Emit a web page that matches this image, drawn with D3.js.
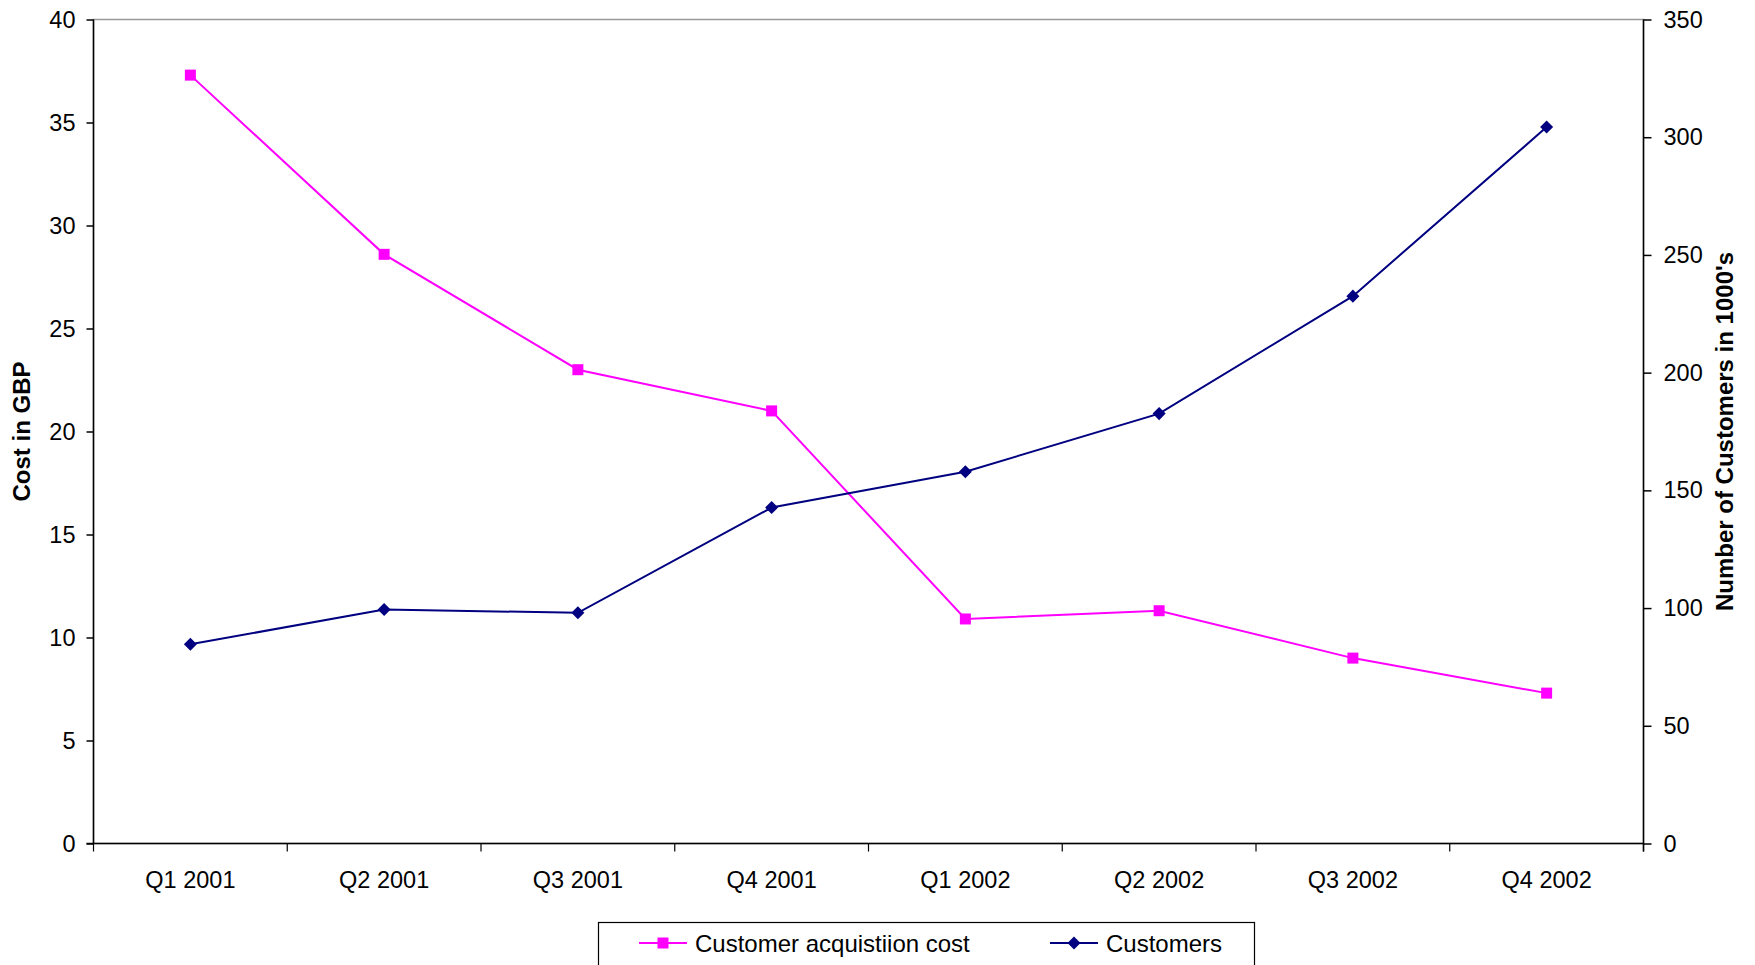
<!DOCTYPE html>
<html>
<head>
<meta charset="utf-8">
<script src="https://cdn.jsdelivr.net/npm/d3@7/dist/d3.min.js"></script>
<style>
  body { margin: 0; background: #fff; }
  text { font-family: "Liberation Sans", Arial, sans-serif; fill: #000; }
</style>
</head>
<body>
<div id="chart"></div>
<script>
var quarters = ["Q1 2001", "Q2 2001", "Q3 2001", "Q4 2001", "Q1 2002", "Q2 2002", "Q3 2002", "Q4 2002"];
var acquisitionCost = [37.3, 28.6, 23.0, 21.0, 10.9, 11.3, 9.0, 7.3];
var customers = [84.6, 99.4, 98.0, 142.7, 157.9, 182.6, 232.5, 304.3];
var leftTicks = [0, 5, 10, 15, 20, 25, 30, 35, 40];
var rightTicks = [0, 50, 100, 150, 200, 250, 300, 350];

var width = 1755, height = 965;
var margin = { left: 93.5, right: 1755 - 1643.5, top: 19.5, bottom: 965 - 843.5 };
var innerW = width - margin.left - margin.right,
    innerH = height - margin.top - margin.bottom;

var svg = d3.select("#chart").append("svg")
    .attr("width", width).attr("height", height);

var g = svg.append("g").attr("transform", "translate(" + margin.left + "," + margin.top + ")");

var x = d3.scaleBand().domain(quarters).range([0, innerW]).padding(0);
var yL = d3.scaleLinear().domain([0, 40]).range([innerH, 0]);
var yR = d3.scaleLinear().domain([0, 350]).range([innerH, 0]);

// plot frame
g.append("rect").attr("width", innerW).attr("height", innerH)
    .attr("fill", "none").attr("stroke", "#999").attr("stroke-width", 1.5);

var fontSize = 23.5;

// left axis
var left = g.append("g").call(d3.axisLeft(yL).tickValues(leftTicks).tickSize(7).tickPadding(11));
// right axis
var right = g.append("g").attr("transform", "translate(" + innerW + ",0)")
    .call(d3.axisRight(yR).tickValues(rightTicks).tickSize(8).tickPadding(12));
// bottom axis labels
var bottom = g.append("g").attr("transform", "translate(0," + innerH + ")")
    .call(d3.axisBottom(x).tickSize(0).tickPadding(28));
bottom.select(".domain").remove();

[left, right, bottom].forEach(function(a) {
  a.attr("font-size", fontSize).attr("font-family", "Liberation Sans, Arial, sans-serif");
  a.selectAll("text").attr("fill", "#000");
  a.selectAll("line").attr("stroke", "#000").attr("stroke-width", 1.5);
  a.select(".domain").attr("stroke", "#000").attr("stroke-width", 1.5);
});
left.select(".domain").attr("d", "M0," + innerH + "V0");
right.select(".domain").attr("d", "M0," + (innerH + 8) + "V0");

// x axis line and boundary ticks
g.append("line").attr("x1", -7).attr("x2", innerW).attr("y1", innerH).attr("y2", innerH)
    .attr("stroke", "#000").attr("stroke-width", 1.5);
var bounds = quarters.map(function(q) { return x(q); }).concat([innerW]);
g.append("g").selectAll("line").data(bounds).enter().append("line")
    .attr("x1", function(d) { return d; }).attr("x2", function(d) { return d; })
    .attr("y1", innerH).attr("y2", innerH + 8)
    .attr("stroke", "#000").attr("stroke-width", 1.2);

var cx = function(d, i) { return x(quarters[i]) + x.bandwidth() / 2; };

// lines
g.append("path").datum(acquisitionCost)
    .attr("fill", "none").attr("stroke", "#FF00FF").attr("stroke-width", 2)
    .attr("d", d3.line().x(cx).y(function(d) { return yL(d); }));
g.append("path").datum(customers)
    .attr("fill", "none").attr("stroke", "#000080").attr("stroke-width", 2)
    .attr("d", d3.line().x(cx).y(function(d) { return yR(d); }));

// markers
g.append("g").selectAll("rect").data(acquisitionCost).enter().append("rect")
    .attr("x", function(d, i) { return cx(d, i) - 5.5; })
    .attr("y", function(d) { return yL(d) - 5.5; })
    .attr("width", 11).attr("height", 11).attr("fill", "#FF00FF");
var diamond = d3.symbol().type(d3.symbolSquare).size(85);
g.append("g").selectAll("path").data(customers).enter().append("path")
    .attr("d", diamond)
    .attr("transform", function(d, i) { return "translate(" + cx(d, i) + "," + yR(d) + ") rotate(45)"; })
    .attr("fill", "#000080");

// axis titles
svg.append("text").attr("transform", "translate(30," + (margin.top + innerH / 2) + ") rotate(-90)")
    .attr("text-anchor", "middle").style("font-size", "24px").style("font-weight", "bold")
    .text("Cost in GBP");
svg.append("text").attr("transform", "translate(1733," + (margin.top + innerH / 2) + ") rotate(-90)")
    .attr("text-anchor", "middle").style("font-size", "24px").style("font-weight", "bold")
    .text("Number of Customers in 1000's");

// legend
var legend = svg.append("g");
legend.append("rect").attr("x", 598.5).attr("y", 922.5).attr("width", 656).attr("height", 44)
    .attr("fill", "#fff").attr("stroke", "#000").attr("stroke-width", 1.2);
var items = [
  { name: "Customer acquistiion cost", color: "#FF00FF", shape: "square", x: 639 },
  { name: "Customers", color: "#000080", shape: "diamond", x: 1050 }
];
var li = legend.selectAll(".item").data(items).enter().append("g")
    .attr("transform", function(d) { return "translate(" + d.x + ",943)"; });
li.append("line").attr("x1", 0).attr("x2", 48).attr("stroke", function(d) { return d.color; }).attr("stroke-width", 2);
li.append("path")
    .attr("d", function(d) { return d3.symbol().type(d3.symbolSquare).size(d.shape === "square" ? 121 : 85)(); })
    .attr("transform", function(d) { return "translate(24,0)" + (d.shape === "diamond" ? " rotate(45)" : ""); })
    .attr("fill", function(d) { return d.color; });
li.append("text").attr("x", 56).attr("y", 8.5).style("font-size", "24px").text(function(d) { return d.name; });
</script>
</body>
</html>
